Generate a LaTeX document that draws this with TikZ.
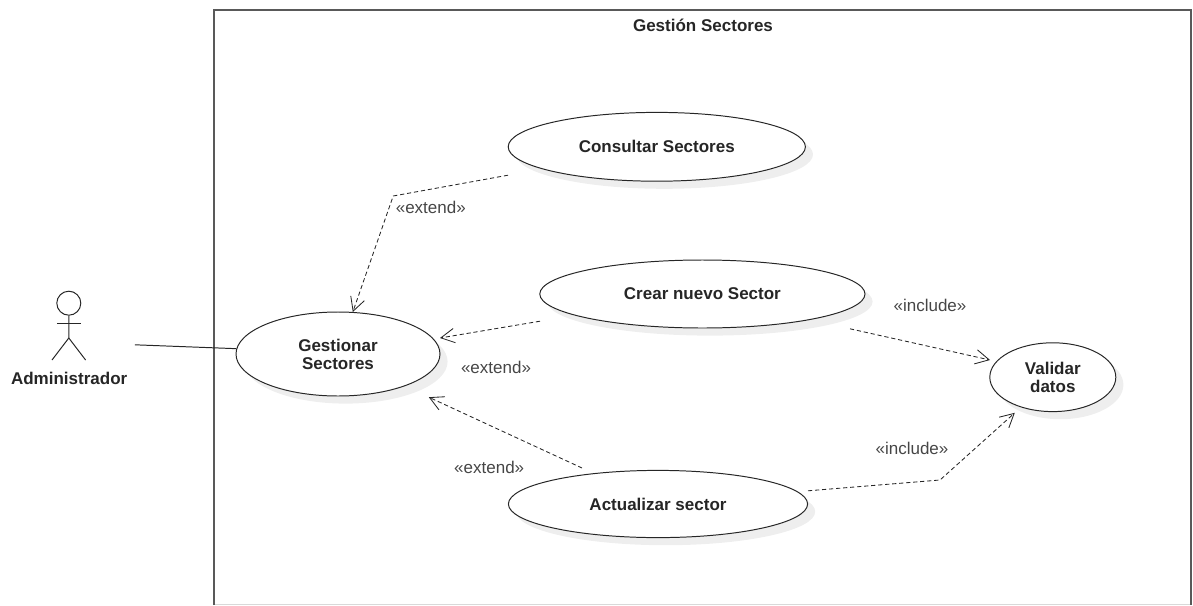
\documentclass[tikz,border=0pt]{standalone}
\usepackage{fontspec}
\setmainfont{Liberation Sans}
\usepackage{tikz}
\usetikzlibrary{shapes.geometric, arrows.meta, shadows}
\definecolor{labelgray}{RGB}{70,70,70}
\definecolor{shadowgray}{RGB}{238,238,238}
\tikzstyle{usecase} = [ellipse, draw=black!85, line width=0.7pt, fill=white, inner sep=0pt, align=center, font=\fontsize{12.1}{12.7}\selectfont\bfseries, text=black!85, drop shadow={shadow xshift=0.19cm, shadow yshift=-0.19cm, fill=shadowgray, opacity=1, draw=none}]
\tikzstyle{stereo} = [font=\fontsize{12.1}{13}\selectfont, text=labelgray, inner sep=0pt]
\tikzstyle{arrow} = [line width=0.6pt, densely dashed, -{Straight Barb[length=3.4mm,width=3.6mm]}, black!85]
\tikzstyle{stick} = [line width=0.7pt, draw=black!85]

\begin{document}
\begin{tikzpicture}
		\useasboundingbox (0,0) rectangle (29.825,-15.125);
		\draw [black!15, line width=0.7pt] (5.35,-15.1) -- (29.775,-15.1);
		\draw [black!65, line width=0.9pt] (5.35,-15.125) -- (5.35,-0.25) -- (29.775,-0.25) -- (29.775,-15.125);
		\node (Title) [font=\fontsize{12.1}{13}\selectfont\bfseries, text=black!85, inner sep=0pt] at (17.575,-0.63) {Gestión Sectores};
		% Actor
		\node (Head) [circle, stick, fill=white, minimum size=0.6cm, inner sep=0pt] at (1.72,-7.58) {};
		\coordinate (Hip) at (1.72,-8.45);
		\coordinate (ArmL) at (1.42,-8.08);
		\coordinate (ArmR) at (2.02,-8.08);
		\coordinate (FootL) at (1.3,-9);
		\coordinate (FootR) at (2.14,-9);
		\draw [stick] (Head.south) -- (Hip) -- (FootL);
		\draw [stick] (Hip) -- (FootR);
		\draw [stick] (ArmL) -- (ArmR);
		\node (Admin) [font=\fontsize{12.1}{13}\selectfont\bfseries, text=black!85, inner sep=0pt] at (1.73,-9.46) {Administrador};
		% Nodes
		\node (Consultar) [usecase, minimum width=7.43cm, minimum height=1.72cm] at (16.42,-3.67) {Consultar Sectores};
		\node (Crear) [usecase, minimum width=8.13cm, minimum height=1.7cm] at (17.56,-7.35) {Crear nuevo Sector};
		\node (Gestionar) [usecase, minimum width=5.1cm, minimum height=2.1cm] at (8.45,-8.85) {Gestionar\\Sectores};
		\node (Validar) [usecase, minimum width=3.15cm, minimum height=1.72cm] at (26.32,-9.43) {Validar\\datos};
		\node (Actualizar) [usecase, minimum width=7.48cm, minimum height=1.68cm] at (16.45,-12.6) {Actualizar sector};
		% Free ends
		\coordinate (AdminEnd) at (3.37,-8.62);
		\coordinate (ConsultarEnd) at (12.7,-4.38);
		\coordinate (ConsultarBend) at (9.83,-4.9);
		\coordinate (CrearEnd) at (13.5,-8.03);
		\coordinate (CrearIncl) at (21.25,-8.22);
		\coordinate (ActExt) at (14.55,-11.7);
		\coordinate (ActIncl) at (20.2,-12.27);
		\coordinate (ActBend) at (23.5,-12);
		\coordinate (GestTop) at (8.82,-7.8);
		\coordinate (GestRight) at (11,-8.45);
		\coordinate (GestLow) at (10.72,-9.93);
		\coordinate (ValLeft) at (24.75,-9);
		\coordinate (ValLow) at (25.37,-10.32);
		% Arrows
		\draw [stick] (AdminEnd) -- (Gestionar.177);
		\draw [arrow] (ConsultarEnd) -- (ConsultarBend) -- (GestTop);
		\draw [arrow] (CrearEnd) -- (GestRight);
		\draw [arrow] (ActExt) -- (GestLow);
		\draw [arrow] (CrearIncl) -- (ValLeft);
		\draw [arrow] (ActIncl) -- (ActBend) -- (ValLow);
		% Labels
		\node (ExtA) [stereo] at (10.77,-5.18) {«extend»};
		\node (ExtB) [stereo] at (12.4,-9.18) {«extend»};
		\node (ExtC) [stereo] at (12.23,-11.68) {«extend»};
		\node (InclA) [stereo] at (23.25,-7.63) {«include»};
		\node (InclB) [stereo] at (22.8,-11.22) {«include»};
	\end{tikzpicture}
\end{document}
